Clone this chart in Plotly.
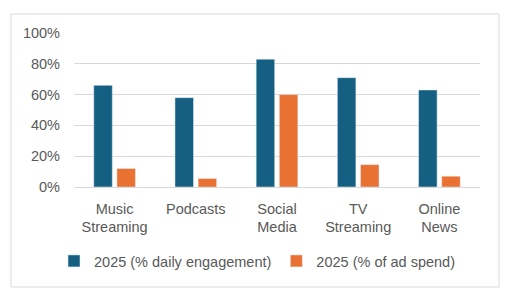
import plotly.graph_objects as go

categories = ["Music<br>Streaming", "Podcasts", "Social<br>Media", "TV<br>Streaming", "Online<br>News"]
engagement = [66, 58, 83, 71, 63]
ad_spend = [12, 5.5, 60, 14.5, 7]
series_names = ["2025 (% daily engagement)", "2025 (% of ad spend)"]
colors = ["#156082", "#E97132"]

fig = go.Figure()
fig.add_trace(go.Bar(x=categories, y=engagement, name=series_names[0], marker_color=colors[0]))
fig.add_trace(go.Bar(x=categories, y=ad_spend, name=series_names[1], marker_color=colors[1]))

L, R, T, B = 74, 480, 33, 187
W, H = 521, 295
pw, ph = R - L, B - T

def px_x(p):
    return (p - L) / pw

def px_y(p):
    return (B - p) / ph

fig.update_layout(
    width=W, height=H,
    margin=dict(l=L, r=W - R, t=T, b=H - B, pad=0),
    paper_bgcolor="white", plot_bgcolor="white",
    barmode="group", bargap=0.43, bargroupgap=0.2,
    font=dict(family="Liberation Sans, Arial, sans-serif", size=14, color="#595959"),
    showlegend=True,
    legend=dict(orientation="h", x=px_x(257), xanchor="center", y=px_y(261), yanchor="middle",
                font=dict(size=14.5, color="#595959"), itemwidth=30, tracegroupgap=0),
    shapes=[dict(type="rect", xref="paper", yref="paper",
                 x0=px_x(11), x1=px_x(499), y0=px_y(287), y1=px_y(14),
                 line=dict(color="#D9D9D9", width=1), fillcolor="rgba(0,0,0,0)", layer="below")],
)
fig.update_xaxes(showgrid=False, showline=False, ticks="", ticklabelstandoff=11,
                 tickfont=dict(size=14.5, color="#595959"))
fig.update_yaxes(range=[0, 100], dtick=20, ticksuffix="%", showgrid=True, gridcolor="#D9D9D9",
                 gridwidth=1, zeroline=True, zerolinecolor="#D9D9D9", zerolinewidth=1,
                 showline=False, ticks="", ticklabelstandoff=13,
                 tickfont=dict(size=14.5, color="#595959"))

fig.write_html("out.html")
